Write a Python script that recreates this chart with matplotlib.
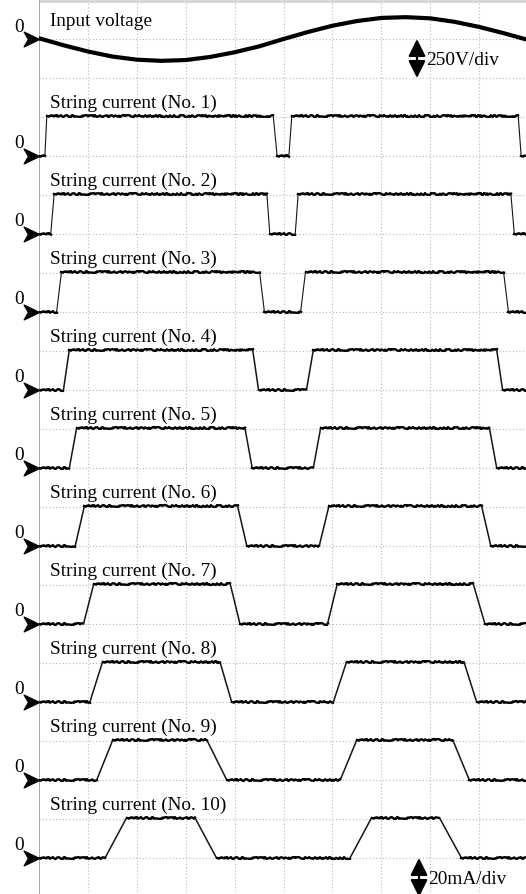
import matplotlib
matplotlib.use("Agg")
import matplotlib.pyplot as plt
from matplotlib.path import Path
import numpy as np

# ---------------- data (in oscilloscope divisions) ----------------
# input voltage trace: time (div) and value (div, positive = up)
voltage_t = [0.0, 0.5, 1.0, 1.5, 2.0, 2.5, 3.0, 3.5, 4.0, 4.5, 5.0,
             5.5, 6.0, 6.5, 7.0, 7.5, 8.0, 8.5, 9.0, 9.5, 9.96]
voltage_v = [0.02, -0.16, -0.32, -0.45, -0.53, -0.56, -0.54, -0.46, -0.34, -0.19, 0.0,
             0.18, 0.34, 0.46, 0.54, 0.56, 0.53, 0.44, 0.31, 0.15, -0.01]

# string currents: edge times (div) -> rise start/end, fall start/end, rise start/end, fall start/end
string_labels = ["String current (No. %d)" % n for n in range(1, 11)]
string_edges = [
    [0.12, 0.16, 4.79, 4.87, 5.11, 5.17, 9.80, 9.86],
    [0.24, 0.31, 4.66, 4.72, 5.24, 5.30, 9.65, 9.72],
    [0.36, 0.46, 4.51, 4.61, 5.35, 5.45, 9.50, 9.60],
    [0.50, 0.62, 4.37, 4.49, 5.47, 5.61, 9.36, 9.48],
    [0.62, 0.77, 4.21, 4.36, 5.61, 5.76, 9.21, 9.36],
    [0.74, 0.93, 4.06, 4.25, 5.73, 5.93, 9.05, 9.24],
    [0.91, 1.12, 3.91, 4.11, 5.90, 6.10, 8.88, 9.12],
    [1.04, 1.30, 3.70, 3.94, 6.02, 6.29, 8.69, 8.95],
    [1.18, 1.51, 3.43, 3.84, 6.16, 6.50, 8.46, 8.80],
    [1.35, 1.79, 3.19, 3.63, 6.36, 6.80, 8.19, 8.64],
]
string_high = 1.03          # on-level of every string current (div)
voltage_label = "Input voltage"
voltage_scale = "250V/div"
current_scale = "20mA/div"

# ---------------- layout ----------------
W, H = 526, 894
DIV = 48.9                 # px per horizontal division
VDIV = 39.0                # px per vertical division
X0 = 39                    # px of left axis
XMAX = (W - X0) / DIV
YMAX = H / VDIV

voltage_zero = 1.0
string_zero = [4.0 + 2.0 * i for i in range(10)]

plt.rcParams['font.family'] = ['Liberation Serif', 'DejaVu Serif']
fig = plt.figure(figsize=(W / 100, H / 100), dpi=100)
ax = fig.add_axes([X0 / W, 0, (W - X0) / W, 1])
ax.set_xlim(0, XMAX)
ax.set_ylim(YMAX, 0)
ax.axis('off')

# grid
grid_kw = dict(color='#b8b8b8', lw=0.8, linestyles=(0, (1, 2)), zorder=0)
ax.vlines(np.arange(1, 10), 0, YMAX, **grid_kw)
ax.hlines(np.arange(1, 23), 0, XMAX, **grid_kw)
ax.hlines([0.02], 0, XMAX, color='#d6d6d6', lw=2.0, zorder=0)
ax.axvline(0, color='#a0a0a0', lw=1.3, zorder=1)

# zero marker (arrow head)
arrow_path = Path([(0, 0), (-1.0, 0.48), (-0.72, 0), (-1.0, -0.48), (0, 0)],
                  [Path.MOVETO, Path.LINETO, Path.LINETO, Path.LINETO, Path.CLOSEPOLY])

def zero_marker(y0):
    ax.plot([0], [y0], marker=arrow_path, markersize=22, color='k',
            clip_on=False, zorder=5, linestyle='none')
    ax.text(-25 / DIV, y0 - 7.5 / VDIV, "0", fontsize=13.9, ha='left',
            va='baseline', color='k')

# input voltage
vy = [voltage_zero - v for v in voltage_v]
ax.plot(voltage_t, vy, color='k', lw=3.0, solid_capstyle='round',
        solid_joinstyle='round', zorder=3)
zero_marker(voltage_zero)
ax.text(11.5 / DIV, voltage_zero - 12.5 / VDIV, voltage_label, fontsize=13.9,
        ha='left', va='baseline')

# string currents
for i, edges in enumerate(string_edges):
    z = string_zero[i]
    xs = [0.0] + edges + [XMAX]
    lv = [0, 0, string_high, string_high, 0, 0, string_high, string_high, 0, 0]
    ys = [z - l for l in lv]
    for k in range(len(xs) - 1):
        seg_x = [xs[k], xs[k + 1]]
        seg_y = [ys[k], ys[k + 1]]
        if ys[k] == ys[k + 1]:
            ln, = ax.plot(seg_x, seg_y, color='k', lw=1.7, zorder=3)
            ln.set_sketch_params(scale=0.9, length=1.2, randomness=20)
        else:
            ax.plot(seg_x, seg_y, color='#151515', lw=1.1 if i > 2 else 0.8, zorder=3)
    zero_marker(z)
    ax.text(11 / DIV, z - 1.22, string_labels[i], fontsize=13.9,
            ha='left', va='baseline')

# scale indicators
def scale_arrow(xdiv, y1, y2, label, ylab):
    ax.annotate('', xy=(xdiv, y1), xytext=(xdiv, y2),
                arrowprops=dict(arrowstyle='<|-|>', color='k', lw=1.6,
                                mutation_scale=26, shrinkA=0, shrinkB=0),
                annotation_clip=False, zorder=4)
    ax.text(xdiv + 9 / DIV, ylab, label, fontsize=13.9, ha='left', va='center')

scale_arrow((417 - X0) / DIV, 1.0, 2.0, voltage_scale, 1.55)
scale_arrow((419 - X0) / DIV, 22.0, 23.0, current_scale, 22.55)

fig.savefig("out.png", dpi=100)
